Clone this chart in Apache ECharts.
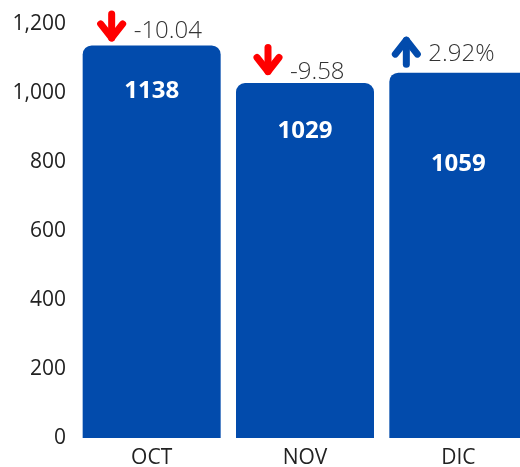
<!DOCTYPE html>
<html>
<head>
<meta charset="utf-8">
<script src="https://cdn.jsdelivr.net/npm/echarts@6/dist/echarts.min.js"></script>
<style>
  html, body { margin: 0; padding: 0; background: #fff; }
  #chart { width: 520px; height: 467px; }
</style>
</head>
<body>
<div id="chart"></div>
<script>
// datos
const months = ['OCT', 'NOV', 'DIC']
const totals = [1138, 1029, 1059]
const changes = [-10.04, -9.58, 2.92]
const changeLabels = ['-10.04', '-9.58', '2.92%']
const yTicks = [0, 200, 400, 600, 800, 1000, 1200]

// ajustes de posición (solo estilo)
const valueLabelDist = [34, 36, 80]
const annotLayout = [
  { dx: -40, arrowDy: -4, textDy: -14 },
  { dx: -37, arrowDy: -8, textDy: -11 },
  { dx: -52, arrowDy: -5, textDy: -18 }
]

const BLUE = '#024BAC'
const RED = '#FF0000'
const FONT = '"Open Sans", "DejaVu Sans", sans-serif'

const chart = echarts.init(document.getElementById('chart'))

const renderAnnot = (params, api) => {
  const i = params.dataIndex
  const p = api.coord([api.value(0), api.value(1)])
  const lay = annotLayout[i]
  const up = api.value(2) > 0
  const x = p[0] + lay.dx
  const bottom = p[1] + lay.arrowDy - 3.5
  const top = bottom - 24
  const color = up ? BLUE : RED
  const tipY = up ? top : bottom
  const armY = up ? top + 14 : bottom - 14
  const lineStyle = { stroke: color, lineWidth: 7, lineCap: 'round', lineJoin: 'round', fill: null }
  return {
    type: 'group',
    children: [
      { type: 'polyline', shape: { points: [[x, top], [x, bottom]] }, style: lineStyle },
      { type: 'polyline', shape: { points: [[x - 11, armY], [x, tipY], [x + 11, armY]] }, style: lineStyle },
      {
        type: 'text',
        style: {
          text: changeLabels[i],
          x: x + 22,
          y: p[1] + lay.textDy,
          align: 'left',
          verticalAlign: 'middle',
          fill: '#333',
          font: '300 24px ' + FONT
        }
      }
    ]
  }
}

const options = {
  animation: false,
  grid: { left: 75, width: 460, top: 24, bottom: 29, containLabel: false, outerBoundsMode: 'none' },
  xAxis: {
    type: 'category',
    data: months,
    axisLine: { show: false },
    axisTick: { show: false },
    axisLabel: { color: '#222', fontSize: 21, fontFamily: FONT, margin: 10 }
  },
  yAxis: {
    type: 'value',
    min: yTicks[0],
    max: yTicks[yTicks.length - 1],
    interval: 200,
    splitLine: { show: false },
    axisLine: { show: false },
    axisTick: { show: false },
    axisLabel: {
      color: '#222',
      fontSize: 21,
      fontFamily: FONT,
      margin: 9,
      formatter: (v) => v.toLocaleString('en-US')
    }
  },
  series: [
    {
      type: 'bar',
      barCategoryGap: '10%',
      data: totals.map((v, i) => ({
        value: v,
        label: { distance: valueLabelDist[i] }
      })),
      itemStyle: { color: BLUE, borderRadius: [9, 9, 0, 0] },
      label: {
        show: true,
        position: 'insideTop',
        color: '#fff',
        fontSize: 24,
        fontWeight: 'bold',
        fontFamily: FONT,
        lineHeight: 24
      }
    },
    {
      type: 'custom',
      z: 10,
      clip: false,
      silent: true,
      renderItem: renderAnnot,
      encode: { x: 0, y: 1 },
      data: totals.map((v, i) => [i, v, changes[i]])
    }
  ]
}
chart.setOption(options)
</script>
</body>
</html>
